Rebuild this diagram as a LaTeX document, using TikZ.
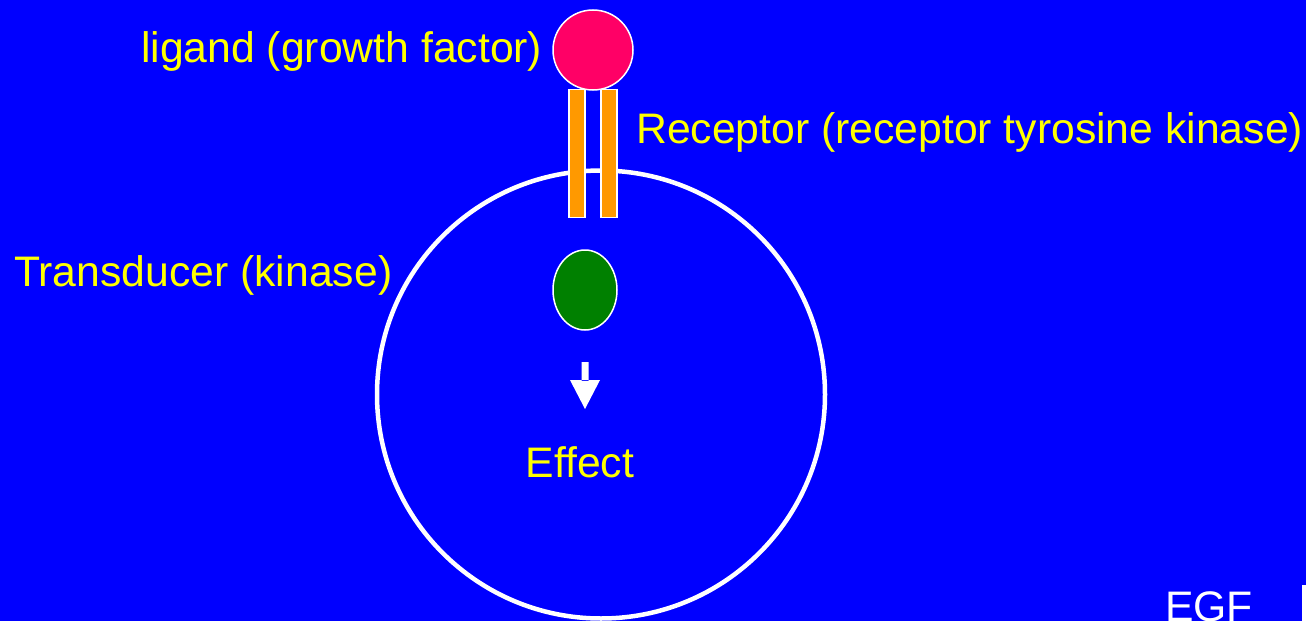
\documentclass[tikz,border=0pt]{standalone}
\usepackage{fontspec}
\setmainfont[Ligatures=NoCommon]{Liberation Sans}
\usetikzlibrary{shapes.geometric}
\definecolor{bgblue}{RGB}{0,0,255}
\definecolor{txtyellow}{RGB}{255,255,0}
\definecolor{ligpink}{RGB}{255,0,102}
\definecolor{recorange}{RGB}{255,153,0}
\definecolor{trgreen}{RGB}{0,128,0}
\tikzset{
  lbl/.style={anchor=base west, inner sep=0pt, text=txtyellow, font=\fontsize{42.7}{48}\selectfont},
  bar/.style={fill=recorange, draw=white, line width=1.5pt},
}
\begin{document}
\begin{tikzpicture}[x=1pt,y=-1pt]
\fill[bgblue] (0,0) rectangle (1306,621);
\useasboundingbox (0,0) rectangle (1306,621);
% cell
\node[circle, draw=white, line width=4.5pt, minimum size=448pt, inner sep=0pt] (cell) at (601,394.5) {};
% receptor bars
\node[bar, minimum width=16pt, minimum height=128pt, inner sep=0pt] (barL) at (577,153.5) {};
\node[bar, minimum width=16pt, minimum height=128pt, inner sep=0pt] (barR) at (609,153.5) {};
% ligand
\node[circle, fill=ligpink, draw=white, line width=1.5pt, minimum size=80pt, inner sep=0pt] (lig) at (593,50) {};
% transducer
\node[ellipse, fill=trgreen, draw=white, line width=1.5pt, minimum width=64pt, minimum height=80pt, inner sep=0pt] (tr) at (585,290) {};
% arrow
\coordinate (arrS) at (585,362);
\coordinate (arrE) at (585,409);
\fill[white] (581.5,362) rectangle (588.5,381) (570,380) -- (600,380) -- (arrE) -- cycle;
% labels
\node[lbl] (tlig) at (141,62) {ligand (growth factor)};
\node[lbl] (trec) at (636,143) {Receptor (receptor tyrosine kinase)};
\node[lbl] (ttr) at (14,286.5) {Transducer (kinase)};
\node[lbl] (teff) at (525.5,477) {Effect};
\node[lbl, text=white] (tegf) at (1165,621.5) {EGF};
\fill[white] (1302,585) rectangle (1306,621);
\end{tikzpicture}
\end{document}
